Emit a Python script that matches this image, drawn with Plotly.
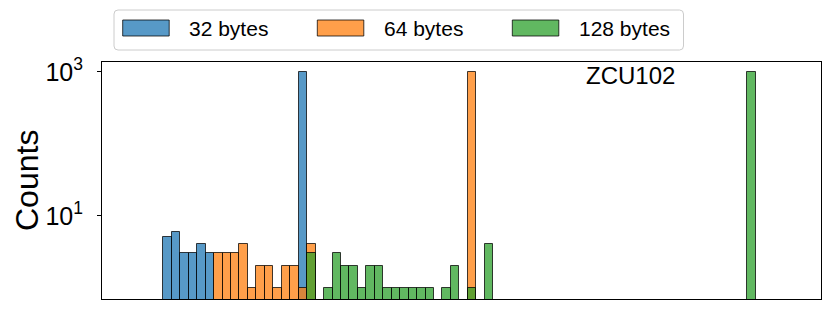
import plotly.graph_objects as go

# ---------------- data ----------------
series_names = ["32 bytes", "64 bytes", "128 bytes"]

bins_32 = [0, 1, 2, 3, 4, 5, 16]
counts_32 = [5, 6, 3, 3, 4, 3, 1000]

bins_64 = [6, 7, 8, 9, 10, 11, 12, 13, 14, 15, 16, 17, 36]
counts_64 = [3, 3, 3, 4, 1, 2, 2, 1, 2, 2, 1, 4, 1000]

bins_128 = [17, 19, 20, 21, 22, 23, 24, 25, 26, 27, 28, 29, 30, 31, 33, 34, 36, 38, 69]
counts_128 = [3, 1, 3, 2, 2, 1, 2, 2, 1, 1, 1, 1, 1, 1, 1, 2, 1, 4, 1000]

ytick_vals = [10, 1000]
ytick_text = ["10<sup>1</sup>", "10<sup>3</sup>"]
board_label = "ZCU102"
y_title = "Counts"

# ---------------- style ----------------
fills = ["rgba(31,119,180,0.75)", "rgba(255,127,14,0.75)", "rgba(44,160,44,0.75)"]
edge = "rgba(0,0,0,0.75)"
FONT = "Liberation Sans, Arial, Helvetica, sans-serif"

OFF = 8  # page body margin
W_FIG, H_FIG = 831 - OFF, 310 - OFF
# plot area in screenshot pixels
L, R, T, B = 102, 821, 62, 299
PW, PH = R - L, B - T


def px(x):
    return (x - L) / PW


def py(y):
    return (B - y) / PH


fig = go.Figure()
for name, xs, ys, col in zip(series_names, [bins_32, bins_64, bins_128],
                             [counts_32, counts_64, counts_128], fills):
    fig.add_trace(go.Bar(
        x=[b + 0.5 for b in xs], y=ys, width=1.0, name=name,
        marker=dict(color=col, line=dict(color=edge, width=1)),
        showlegend=False,
    ))

bin_px = 8.46
x0_px = 163.3
fig.update_layout(
    width=W_FIG, height=H_FIG,
    margin=dict(l=L - OFF, r=831 - R, t=T - OFF, b=310 - B, pad=0),
    paper_bgcolor="white", plot_bgcolor="white",
    barmode="overlay", bargap=0,
    font=dict(family=FONT, color="black"),
    xaxis=dict(range=[(L - x0_px) / bin_px, (R - x0_px) / bin_px],
               showticklabels=False, ticks="", showgrid=False, zeroline=False,
               showline=True, mirror=True, linecolor="black", linewidth=1),
    yaxis=dict(type="log", range=[-0.157, 3.139],
               tickvals=ytick_vals, ticktext=ytick_text,
               ticks="outside", ticklen=4, tickwidth=1, tickcolor="black",
               tickfont=dict(size=25, family=FONT), ticklabelstandoff=9,
               showgrid=False, zeroline=False,
               showline=True, mirror=True, linecolor="black", linewidth=1),
)

# y title
fig.add_annotation(x=px(27), y=py(181), xref="paper", yref="paper",
                   text=y_title, textangle=-90, showarrow=False, borderpad=0,
                   font=dict(size=32, family=FONT), xanchor="center", yanchor="middle")

# board label
fig.add_annotation(x=px(630), y=py(75), xref="paper", yref="paper",
                   text=board_label, showarrow=False,
                   font=dict(size=24, family=FONT), xanchor="center", yanchor="middle")

# manual legend (matplotlib style)
bx0, bx1, by0, by1, r = 114, 683.5, 10, 50, 4
path = (f"M {px(bx0 + r)} {py(by0)} L {px(bx1 - r)} {py(by0)} "
        f"Q {px(bx1)} {py(by0)} {px(bx1)} {py(by0 + r)} "
        f"L {px(bx1)} {py(by1 - r)} Q {px(bx1)} {py(by1)} {px(bx1 - r)} {py(by1)} "
        f"L {px(bx0 + r)} {py(by1)} Q {px(bx0)} {py(by1)} {px(bx0)} {py(by1 - r)} "
        f"L {px(bx0)} {py(by0 + r)} Q {px(bx0)} {py(by0)} {px(bx0 + r)} {py(by0)} Z")
fig.add_shape(type="path", path=path, xref="paper", yref="paper",
              line=dict(color="rgba(204,204,204,1)", width=1), fillcolor="white", layer="above")

sw_x = [122.7, 317.3, 512.3]
txt_x = [187.3, 382.0, 576.7]
for name, col, sx, tx in zip(series_names, fills, sw_x, txt_x):
    fig.add_shape(type="rect", xref="paper", yref="paper",
                  x0=px(sx), x1=px(sx + 46.5), y0=py(36), y1=py(20),
                  fillcolor=col, line=dict(color=edge, width=1), layer="above")
    fig.add_annotation(x=px(tx), y=py(28.5), xref="paper", yref="paper",
                       text=name, showarrow=False, xanchor="left", yanchor="middle",
                       font=dict(size=21, family=FONT))

fig.write_html("out.html")
